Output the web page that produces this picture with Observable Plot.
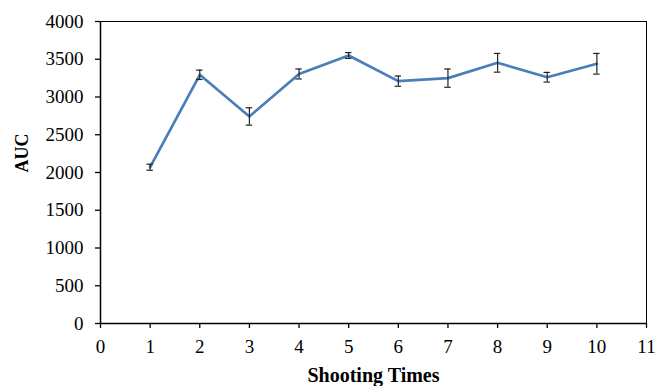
<!DOCTYPE html>
<html>
<head>
<meta charset="utf-8">
<script src="https://cdn.jsdelivr.net/npm/d3@7"></script>
<script src="https://cdn.jsdelivr.net/npm/@observablehq/plot@0.6"></script>
<style>
  html, body { margin: 0; padding: 0; background: #fff; }
  svg, svg text { font-family: "Liberation Serif", "Times New Roman", serif !important; }
</style>
</head>
<body>
<div id="chart"></div>
<script>
const shootingTimes = [1, 2, 3, 4, 5, 6, 7, 8, 9, 10];
const auc = [2070, 3294, 2742, 3305, 3550, 3210, 3250, 3453, 3262, 3440];
const errors = [40, 62, 115, 66, 38, 68, 121, 124, 64, 137];
const xTicks = [0, 1, 2, 3, 4, 5, 6, 7, 8, 9, 10, 11];
const yTicks = [0, 500, 1000, 1500, 2000, 2500, 3000, 3500, 4000];

const data = shootingTimes.map((t, i) => ({ t, v: auc[i], e: errors[i] }));
const capHalf = 0.065;
const blank = () => "";

const chart = Plot.plot({
  width: 656,
  height: 386,
  marginLeft: 100,
  marginRight: 10,
  marginTop: 21,
  marginBottom: 63,
  style: { fontFamily: "'Liberation Serif', 'Times New Roman', serif", fontSize: "19px", color: "#000", background: "#fff" },
  x: { domain: [0, 11], label: null },
  y: { domain: [0, 4000], label: null },
  marks: [
    Plot.axisX({ ticks: xTicks, tickFormat: blank, tickSize: 5, label: null, stroke: "#000", strokeWidth: 1.3 }),
    Plot.axisY({ ticks: yTicks, tickFormat: blank, tickSize: 5, label: null, stroke: "#000", strokeWidth: 1.3 }),
    Plot.text(xTicks, { x: d => d, y: 0, text: d => String(d), dy: 23, fontSize: 19, fill: "#000" }),
    Plot.text(yTicks, { x: 0, y: d => d, text: d => String(d), dx: -17, textAnchor: "end", fontSize: 19, fill: "#000" }),
    Plot.ruleY([4000], { x1: 0, x2: 11, stroke: "#000", strokeWidth: 1 }),
    Plot.ruleX([11], { y1: 0, y2: 4000, stroke: "#000", strokeWidth: 1 }),
    Plot.ruleX([0], { y1: 0, y2: 4000, stroke: "#000", strokeWidth: 1.5 }),
    Plot.ruleY([0], { x1: 0, x2: 11, stroke: "#000", strokeWidth: 1.5 }),
    Plot.line(data, { x: "t", y: "v", stroke: "#4a7ebb", strokeWidth: 2.7, strokeLinejoin: "round" }),
    Plot.ruleX(data, { x: "t", y1: d => d.v - d.e, y2: d => d.v + d.e, stroke: "#222", strokeWidth: 1.2 }),
    Plot.ruleY(data, { y: d => d.v + d.e, x1: d => d.t - capHalf, x2: d => d.t + capHalf, stroke: "#222", strokeWidth: 1.2 }),
    Plot.ruleY(data, { y: d => d.v - d.e, x1: d => d.t - capHalf, x2: d => d.t + capHalf, stroke: "#222", strokeWidth: 1.2 }),
    Plot.text(["Shooting Times"], { x: 5.5, y: 0, text: d => d, dy: 52, fontWeight: "bold", fontSize: 20, fill: "#000" }),
    Plot.text(["AUC"], { frameAnchor: "left", text: d => d, rotate: -90, dx: -78, fontWeight: "bold", fontSize: 18, fill: "#000" })
  ]
});
document.getElementById("chart").appendChild(chart);
</script>
</body>
</html>
